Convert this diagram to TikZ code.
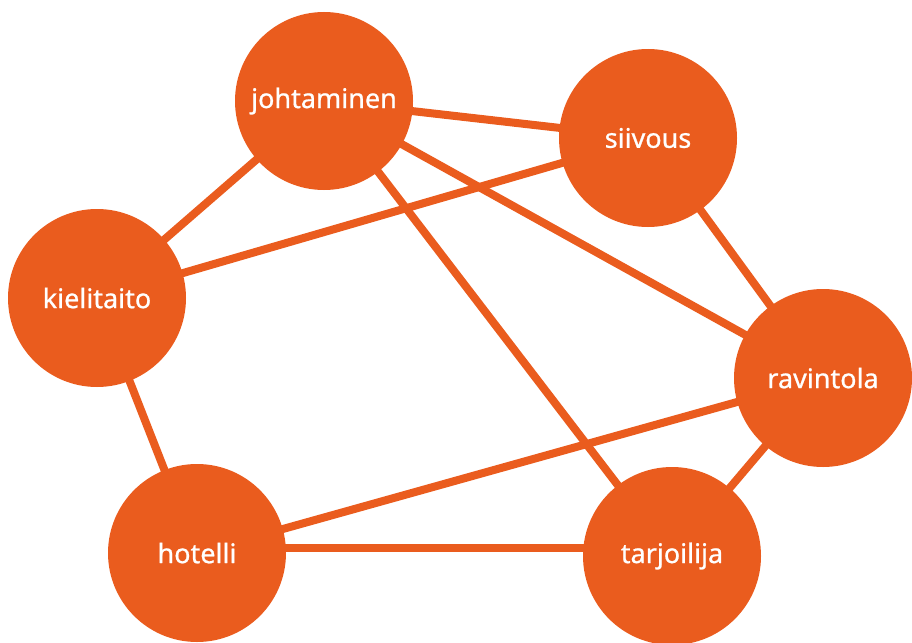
\documentclass[tikz,border=0pt]{standalone}
\usepackage{fontspec}
\setmainfont{Noto Sans}[FakeBold=0.8]
\usetikzlibrary{backgrounds}
\definecolor{orng}{HTML}{EA5C1E}
\begin{document}
\begin{tikzpicture}[x=1pt,y=-1pt,
  bubble/.style={circle,fill=orng,minimum size=178pt,inner sep=0pt,text=white,font=\fontsize{27}{30}\selectfont},
  link/.style={draw=orng,line width=8pt}]
\useasboundingbox (0,0) rectangle (912,642);
\node[bubble] (joh) at (324,101) {johtaminen};
\node[bubble] (sii) at (648,138) {siivous};
\node[bubble] (kie) at (97,298) {kielitaito};
\node[bubble] (rav) at (823,378) {ravintola};
\node[bubble] (hot) at (197,553) {hotelli};
\node[bubble] (tar) at (672,556) {tarjoilija};
\begin{scope}[on background layer]
\path[link] (joh.center) -- (sii.center);
\path[link] (joh.center) -- (kie.center);
\path[link] (joh.center) -- (rav.center);
\path[link] (joh.center) -- (tar.center);
\path[link] (sii.center) -- (kie.center);
\path[link] (sii.center) -- (rav.center);
\path[link] (kie.center) -- (hot.center);
\path[link] (rav.center) -- (hot.center);
\path[link] (rav.center) -- (tar.center);
\path[link] ([yshift=5pt]hot.center) -- ([yshift=8pt]tar.center);
\end{scope}
\end{tikzpicture}
\end{document}
